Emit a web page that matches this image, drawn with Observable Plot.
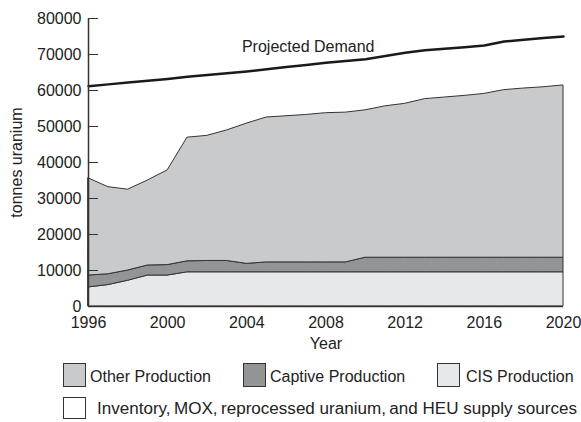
<!DOCTYPE html>
<html><head><meta charset="utf-8">
<script src="https://cdn.jsdelivr.net/npm/d3@7"></script>
<script src="https://cdn.jsdelivr.net/npm/@observablehq/plot@0.6"></script>
<style>
body{margin:0;background:#fff;font-family:"Liberation Sans",Arial,sans-serif}
#chart svg{display:block}
</style>
</head><body><div id="chart"></div>
<script>
const years = [1996,1997,1998,1999,2000,2001,2002,2003,2004,2005,2006,2007,2008,2009,2010,2011,2012,2013,2014,2015,2016,2017,2018,2019,2020];
const cisProduction = [5300,5950,7150,8600,8600,9500,9500,9500,9500,9500,9500,9500,9500,9500,9500,9500,9500,9500,9500,9500,9500,9500,9500,9500,9500];
const captiveProduction = [3300,3000,2850,2800,2900,3050,3150,3150,2350,2750,2750,2750,2750,2750,4050,4050,4050,4050,4050,4050,4050,4050,4050,4050,4050];
const otherProduction = [27000,24200,22450,23600,26300,34350,34750,36250,38950,40250,40600,40950,41450,41600,40950,42050,42750,44050,44500,44950,45500,46550,47000,47350,47850];
const projectedDemand = [61200,61700,62200,62700,63200,63800,64300,64800,65300,65900,66500,67100,67700,68200,68700,69600,70500,71200,71600,72000,72500,73600,74100,74600,75000];
const seriesNames = ["CIS Production","Captive Production","Other Production"];
const seriesColors = ["#e7e8e9","#939496","#c9cacc"];
const xTicks = [1996,2000,2004,2008,2012,2016,2020];
const yTicks = [0,10000,20000,30000,40000,50000,60000,70000,80000];
const annotations = [{year: 2007.1, value: 72100, text: "Projected Demand"}];
const legendRow2 = "Inventory,\u2009MOX,\u2009reprocessed uranium,\u2009and HEU supply sources";

const seriesValues = [cisProduction, captiveProduction, otherProduction];
const stacked = [];
seriesNames.forEach((name, s) => years.forEach((y, i) => stacked.push({year: y, series: name, value: seriesValues[s][i]})));
const demandRows = years.map((y, i) => ({year: y, value: projectedDemand[i]}));

const tickShape = {draw(context, l) { context.moveTo(0, 0); context.lineTo(0, -l); }};

const chart = Plot.plot({
  width: 581,
  height: 352,
  marginLeft: 88,
  marginRight: 18,
  marginTop: 18,
  marginBottom: 46,
  style: {fontFamily: '"Liberation Sans", Arial, sans-serif', fontSize: "16px", color: "#222", background: "#fff", overflow: "visible"},
  x: {domain: [1996, 2020]},
  y: {domain: [0, 80000]},
  color: {domain: seriesNames, range: seriesColors},
  marks: [
    Plot.areaY(stacked, {x: "year", y: "value", z: "series", fill: "series", stroke: "#333", strokeWidth: 1}),
    Plot.lineY(demandRows, {x: "year", y: "value", stroke: "#1a1a1a", strokeWidth: 2.5}),
    Plot.text(annotations, {x: "year", y: "value", text: "text", fontSize: 16, fill: "#222"}),
    Plot.vector(yTicks, {x: () => years[0], y: d => d, length: 9, rotate: 90, anchor: "start", shape: tickShape, stroke: "#333", strokeWidth: 1.2}),
    Plot.ruleX([1996], {stroke: "#333", strokeWidth: 1.5}),
    Plot.ruleY([0], {stroke: "#333", strokeWidth: 1.5}),
    Plot.axisY(yTicks, {tickSize: 0, tickPadding: 7, tickFormat: "d", fontSize: 16, fill: "#222", label: "tonnes uranium", labelAnchor: "center", labelOffset: 78, labelArrow: false}),
    Plot.axisX(xTicks, {tickSize: 0, tickPadding: 10, tickFormat: "d", fontSize: 16, fill: "#222", label: "Year", labelAnchor: "center", labelOffset: 42, labelArrow: false})
  ]
});
document.getElementById("chart").appendChild(chart);

// Legend below the chart
const ns = "http://www.w3.org/2000/svg";
const leg = document.createElementNS(ns, "svg");
leg.setAttribute("width", 581);
leg.setAttribute("height", 70);
leg.style.display = "block";
leg.style.fontFamily = '"Liberation Sans", Arial, sans-serif';
leg.style.fontSize = "16px";
const legendItems = [
  {name: "Other Production", color: seriesColors[2], sx: 63, tx: 90},
  {name: "Captive Production", color: seriesColors[1], sx: 243, tx: 270},
  {name: "CIS Production", color: seriesColors[0], sx: 437, tx: 466}
];
function addRect(x, y, w, h, fill) {
  const r = document.createElementNS(ns, "rect");
  r.setAttribute("x", x + 0.5); r.setAttribute("y", y + 0.5);
  r.setAttribute("width", w); r.setAttribute("height", h);
  r.setAttribute("fill", fill); r.setAttribute("stroke", "#333"); r.setAttribute("stroke-width", 1);
  leg.appendChild(r);
}
function addText(x, y, s, len) {
  const t = document.createElementNS(ns, "text");
  t.setAttribute("x", x); t.setAttribute("y", y);
  t.setAttribute("fill", "#222");
  if (len) { t.setAttribute("textLength", len); t.setAttribute("lengthAdjust", "spacingAndGlyphs"); }
  t.textContent = s;
  leg.appendChild(t);
}
legendItems.forEach(d => { addRect(d.sx, 11, 22, 23, d.color); addText(d.tx, 30, d.name); });
addRect(63, 45, 22, 21, "#fff");
addText(97, 62, legendRow2, 480);
document.getElementById("chart").appendChild(leg);
</script>
</body></html>
